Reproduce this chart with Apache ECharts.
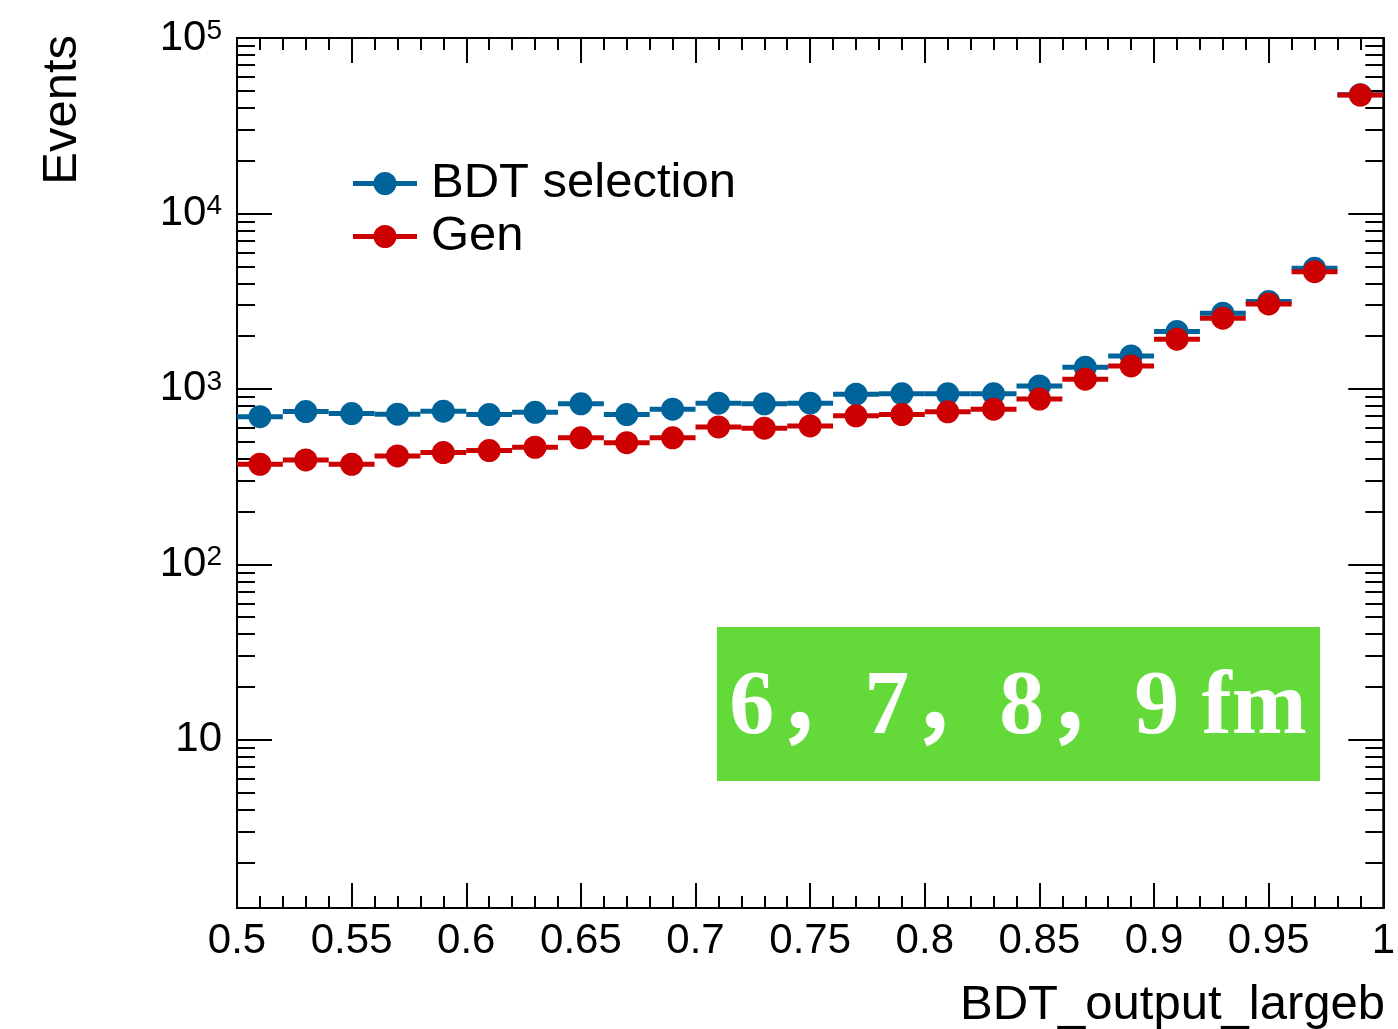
<!DOCTYPE html>
<html>
<head>
<meta charset="utf-8">
<script src="https://cdn.jsdelivr.net/npm/echarts@6/dist/echarts.min.js"></script>
<style>
  html, body { margin: 0; padding: 0; background: #fff; }
  #chart { width: 1398px; height: 1029px; }
</style>
</head>
<body>
<div id="chart"></div>
<script>
// Bin centres of BDT_output_largeb (bins 0.02 wide, 0.5 .. 1.0)
const binCenters = [0.51, 0.53, 0.55, 0.57, 0.59, 0.61, 0.63, 0.65, 0.67, 0.69,
                    0.71, 0.73, 0.75, 0.77, 0.79, 0.81, 0.83, 0.85, 0.87, 0.89,
                    0.91, 0.93, 0.95, 0.97, 0.99];
const binWidth = 0.02;

// Event counts per bin
const bdtSelection = [695, 743, 723, 718, 746, 714, 736, 822, 714, 766,
                      829, 822, 829, 933, 938, 938, 938, 1040, 1327, 1541,
                      2122, 2700, 3145, 4870, 47500];
const gen = [372, 394, 372, 415, 434, 445, 465, 526, 494, 526,
             607, 597, 615, 702, 714, 740, 766, 875, 1136, 1352,
             1919, 2529, 3050, 4660, 47300];

// Axis ranges and tick positions
const xMin = 0.5, xMax = 1.0, xStep = 0.05;
const yMin = 1.1, yMax = 1e5;
const yMajorTicks = [10, 100, 1000, 10000, 100000];
const yMinorTicks = [2, 3, 4, 5, 6, 7, 8, 9,
                     20, 30, 40, 50, 60, 70, 80, 90,
                     200, 300, 400, 500, 600, 700, 800, 900,
                     2000, 3000, 4000, 5000, 6000, 7000, 8000, 9000,
                     20000, 30000, 40000, 50000, 60000, 70000, 80000, 90000];

const seriesNames = ['BDT selection', 'Gen'];
const seriesColors = ['#00649b', '#cc0000'];
const boxText = '6，7，8，9 fm';
const xTitle = 'BDT_output_largeb';
const yTitle = 'Events';

const FONT = 'Liberation Sans, Arial, Helvetica, sans-serif';

function pairs(vals) {
  return binCenters.map((c, i) => [c, vals[i]]);
}

// Marker with horizontal bar spanning the bin width
function binRenderer(color) {
  return function (params, api) {
    const x = api.value(0), y = api.value(1);
    const a = api.coord([x - binWidth / 2, y]);
    const b = api.coord([x + binWidth / 2, y]);
    const c = api.coord([x, y]);
    return {
      type: 'group',
      children: [
        { type: 'line', shape: { x1: a[0], y1: a[1], x2: b[0], y2: b[1] },
          style: { stroke: color, lineWidth: 5 } },
        { type: 'circle', shape: { cx: c[0], cy: c[1], r: 11.5 },
          style: { fill: color } }
      ]
    };
  };
}

function yLabel(v) {
  const e = Math.round(Math.log10(v));
  return e === 1 ? '{b|10}' : '{b|10}{s|' + e + '}';
}

const tickLine = { color: '#000', width: 2 };

function xAxisDef(pos) {
  return {
    type: 'value', position: pos, min: xMin, max: xMax, interval: xStep,
    axisLine: { show: true, onZero: false, lineStyle: tickLine },
    axisTick: { show: true, inside: true, length: 25, lineStyle: tickLine },
    minorTick: { show: true, splitNumber: 5, length: 12, lineStyle: tickLine },
    splitLine: { show: false },
    axisLabel: pos === 'bottom' ? {
      show: true, fontSize: 42, fontFamily: FONT, color: '#000', margin: 12
    } : { show: false }
  };
}

function yAxisDef(pos, major) {
  return {
    type: 'log', logBase: 10, position: pos, min: yMin, max: yMax,
    axisLine: { show: major, onZero: false, lineStyle: tickLine },
    axisTick: { show: true, inside: true, length: major ? 35 : 18,
                customValues: major ? yMajorTicks : yMinorTicks, lineStyle: tickLine },
    minorTick: { show: false },
    splitLine: { show: false },
    axisLabel: (major && pos === 'left') ? {
      show: true, customValues: yMajorTicks, formatter: yLabel, margin: 15,
      color: '#000',
      rich: {
        b: { fontSize: 42, fontFamily: FONT, color: '#000', lineHeight: 42 },
        s: { fontSize: 28, fontFamily: FONT, color: '#000', verticalAlign: 'top', lineHeight: 28 }
      }
    } : { show: false }
  };
}

const legendIcon = 'path://M0,9H64V14H0Z M20.5,11.5A11.5,11.5 0 1,1 43.5,11.5A11.5,11.5 0 1,1 20.5,11.5Z';

const chart = echarts.init(document.getElementById('chart'), null, { renderer: 'canvas' });
chart.setOption({
  backgroundColor: '#fff',
  animation: false,
  grid: { left: 237, top: 38, right: 10, bottom: 121, show: true,
          borderColor: '#000', borderWidth: 2, backgroundColor: 'transparent' },
  xAxis: [xAxisDef('bottom'), xAxisDef('top')],
  yAxis: [yAxisDef('left', true), yAxisDef('left', false),
          yAxisDef('right', true), yAxisDef('right', false)],
  legend: {
    orient: 'vertical', left: 353, top: 159, padding: 0,
    itemWidth: 64, itemHeight: 23, itemGap: 4, itemTextGap: 15,
    icon: legendIcon,
    textStyle: { fontSize: 49, fontFamily: FONT, color: '#000', lineHeight: 49,
                 padding: [0, 0, 0, 9] },
    data: seriesNames
  },
  graphic: [
    { type: 'text', x: 62, y: 35, rotation: Math.PI / 2,
      style: { text: yTitle, font: '49px ' + FONT, fill: '#000', align: 'right', verticalAlign: 'middle' } },
    { type: 'text', x: 1385, y: 1005,
      style: { text: xTitle, font: '49px ' + FONT, fill: '#000', align: 'right', verticalAlign: 'middle' } },
    { type: 'group', left: 717, top: 627, children: [
      { type: 'rect', shape: { x: 0, y: 0, width: 603, height: 154 }, style: { fill: '#63d93a' } },
      { type: 'text', x: 301, y: 83,
        style: { text: boxText, font: 'bold 90px "Liberation Serif", "DejaVu Serif", "Noto Sans CJK SC", serif',
                 fill: '#fff', align: 'center', verticalAlign: 'middle' } }
    ] }
  ],
  series: [
    { name: seriesNames[0], type: 'custom', xAxisIndex: 0, yAxisIndex: 0,
      itemStyle: { color: seriesColors[0] }, renderItem: binRenderer(seriesColors[0]),
      encode: { x: 0, y: 1 }, data: pairs(bdtSelection), z: 2 },
    { name: seriesNames[1], type: 'custom', xAxisIndex: 0, yAxisIndex: 0,
      itemStyle: { color: seriesColors[1] }, renderItem: binRenderer(seriesColors[1]),
      encode: { x: 0, y: 1 }, data: pairs(gen), z: 3 }
  ]
});
</script>
</body>
</html>
